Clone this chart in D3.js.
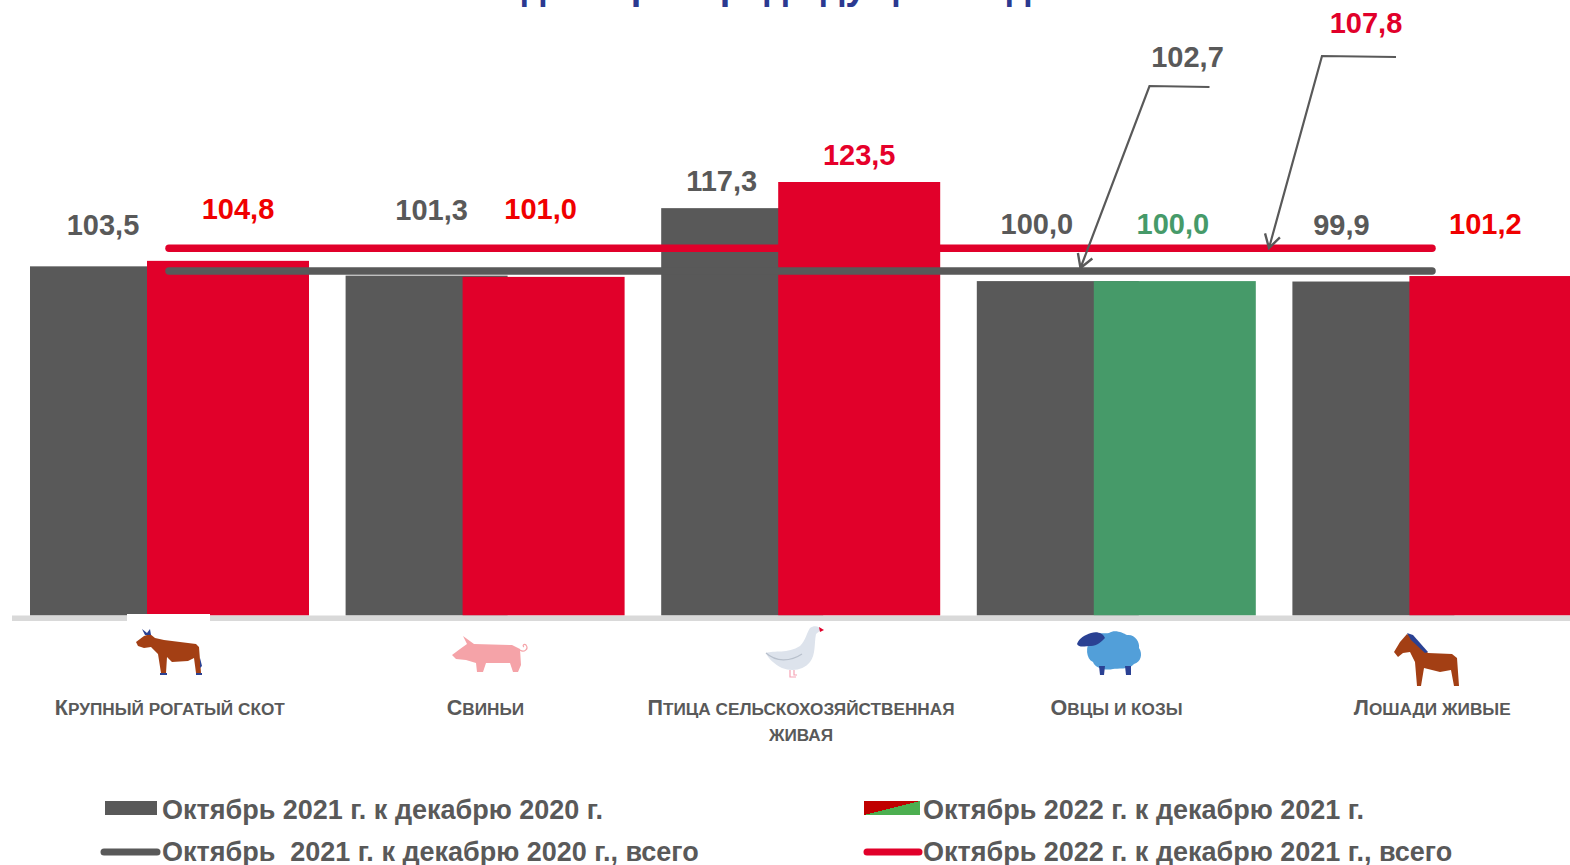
<!DOCTYPE html>
<html><head><meta charset="utf-8">
<script src="https://cdn.jsdelivr.net/npm/d3@7"></script>
<style>
html,body{margin:0;padding:0;background:#fff;overflow:hidden}
svg{display:block;font-family:"Liberation Sans",Arial,sans-serif;font-weight:700}
</style></head><body><svg id="c" width="1570" height="865"></svg>
<script>
const categories = ["Крупный рогатый скот","Свиньи","Птица сельскохозяйственная живая","Овцы и козы","Лошади живые"];
const categoryLines = [["Крупный рогатый скот"],["Свиньи"],["Птица сельскохозяйственная","живая"],["Овцы и козы"],["Лошади живые"]];
const values2021 = [103.5,101.3,117.3,100.0,99.9];
const values2022 = [104.8,101.0,123.5,100.0,101.2];
const total2021 = 102.7;
const total2022 = 107.8;
const title = "в % к декабрю предыдущего года";
const legendLabels = ["Октябрь 2021 г. к декабрю 2020 г.","Октябрь 2022 г. к декабрю 2021 г.","Октябрь  2021 г. к декабрю 2020 г., всего","Октябрь 2022 г. к декабрю 2021 г., всего"];

const GREY="#595959", RED="#e1002a", GREEN="#469a69";
const colors2022 = [RED,RED,RED,GREEN,RED];
const labelColors2022 = ["#f00000","#f00000","#e6002a",GREEN,"#f00000"];
const nudge2021 = [{dx:-8,dy:-31},{dx:5,dy:-55.5},{dx:-20.5,dy:-17.5},{dx:-21,dy:-47},{dx:-32,dy:-47}];
const nudge2022 = [{dx:10,dy:-42},{dx:-3,dy:-58},{dx:0,dy:-17},{dx:-2,dy:-47},{dx:-5,dy:-42}];

const svg=d3.select("#c");
const fmt=v=>v.toFixed(1).replace(".",",");
const x=d3.scaleBand().domain(categories).range([12,1590]);
const y=d3.scaleLinear().domain([20.7,123.5]).range([615.5,182]);
const barW=162, shift=117;
const barX=i=>x(categories[i])+18;

svg.append("text").attr("x",733).attr("y",-1).attr("text-anchor","middle")
  .attr("font-size",38).attr("fill","#2b3990").text(title);

const defs=svg.append("defs");
const grad=defs.append("linearGradient").attr("id","mix").attr("x1",0).attr("y1",0).attr("x2",1).attr("y2",1);
grad.append("stop").attr("offset","50%").attr("stop-color","#c00000");
grad.append("stop").attr("offset","50%").attr("stop-color","#4caf50");
const arrow=defs.append("marker").attr("id","arr").attr("viewBox","-12 -8 14 16").attr("refX",0).attr("refY",0)
  .attr("markerWidth",17).attr("markerHeight",19).attr("markerUnits","userSpaceOnUse").attr("orient","auto");
arrow.append("path").attr("d","M-11,-6.5L0,0L-11,6.5").attr("fill","none").attr("stroke",GREY).attr("stroke-width",2);

// bars
svg.append("g").selectAll("rect").data(values2021).join("rect")
  .attr("x",(d,i)=>barX(i)).attr("width",barW).attr("y",d=>y(d)).attr("height",d=>y.range()[0]-y(d)).attr("fill",GREY);
svg.append("g").selectAll("rect").data(values2022).join("rect")
  .attr("x",(d,i)=>barX(i)+shift).attr("width",barW).attr("y",d=>y(d)).attr("height",d=>y.range()[0]-y(d)).attr("fill",(d,i)=>colors2022[i]);

// axis
svg.append("rect").attr("x",12).attr("y",615.5).attr("width",1558).attr("height",5.5).attr("fill","#d9d9d9");
svg.append("rect").attr("x",127).attr("y",614).attr("width",83).attr("height",7).attr("fill","#fff");

// total lines
const lineEnds=[169,1432];
[[total2022,RED,0],[total2021,GREY,1.2]].forEach(([v,c,o])=>{
  svg.append("line").attr("x1",lineEnds[0]).attr("x2",lineEnds[1]).attr("y1",y(v)+o).attr("y2",y(v)+o)
    .attr("stroke",c).attr("stroke-width",7.5).attr("stroke-linecap","round");
});

// value labels
const valueLabel=(vals,nudge,col,off)=>svg.append("g").attr("font-size",29).attr("text-anchor","middle")
  .selectAll("text").data(vals).join("text")
  .attr("x",(d,i)=>barX(i)+off+nudge[i].dx).attr("y",(d,i)=>y(d)+nudge[i].dy).attr("fill",col).text(fmt);
valueLabel(values2021,nudge2021,GREY,81);
valueLabel(values2022,nudge2022,(d,i)=>labelColors2022[i],shift+81);

// callouts
const lg=d3.line();
svg.append("path").attr("d",lg([[1209.5,87],[1149.5,86],[1080.5,268]])).attr("fill","none").attr("stroke",GREY).attr("stroke-width",2.2).attr("marker-end","url(#arr)");
svg.append("path").attr("d",lg([[1396,57],[1322,56],[1269,248]])).attr("fill","none").attr("stroke",GREY).attr("stroke-width",2.2).attr("marker-end","url(#arr)");
svg.append("text").attr("x",1187.5).attr("y",67).attr("font-size",29).attr("text-anchor","middle").attr("fill",GREY).text(fmt(total2021));
svg.append("text").attr("x",1366).attr("y",33).attr("font-size",29).attr("text-anchor","middle").attr("fill",RED).text(fmt(total2022));

// category labels (small caps: capitals at full size, the rest as smaller capitals)
const cx=c=>x(c)+x.bandwidth()/2;
const catG=svg.append("g").attr("font-size",21.5).attr("fill",GREY).attr("text-anchor","middle");
categories.forEach((c,i)=>categoryLines[i].forEach((t,j)=>{
  const el=catG.append("text").attr("x",cx(c)).attr("y",715+j*26);
  Array.from(t).forEach(ch=>{
    const lower=ch!==ch.toUpperCase();
    el.append("tspan").attr("font-size",lower||ch===" "?17.2:21.5).text(ch.toUpperCase());
  });
}));

// icons
const icon=(tx,ty,parts)=>{const g=svg.append("g").attr("transform",`translate(${tx},${ty})`);
  parts.forEach(([d,f,s])=>g.append("path").attr("d",d).attr("fill",f||"none").attr("stroke",s||"none").attr("stroke-width",s?1.2:0));};
const BROWN="#a33f14", NAVY="#2a4193";
icon(136,628,[
 ["M0,14 L8,8 L14,6 L19,10 L28,12 L60,16 L63,19 L64,32 L65,45 L60,45 L58,30 L52,33 L36,34 L31,29 L30,45 L25,45 L22,26 L15,19 L8,20 L2,18 Z",BROWN],
 ["M9,7 L6,1 L11,5 L14,1 L15,7 Z",NAVY],["M24,45 h7 v2 h-7z M60,45 h6 v2 h-6z M64,30 L66,38 L64,40Z",NAVY]]);
icon(452,635,[
 ["M0,20 L8,14 L15,9 L11,1 L22,9 L60,10 L68,14 L69,30 L66,37 L61,37 L58,28 L34,28 L31,37 L25,37 L24,28 L14,25 L4,24 Z","#f5a3a8"],
 ["M68,15 C72,18 77,14 74,10 C72,8 70,11 72,12","none","#f5a3a8"]]);
icon(766,626,[
 ["M0,27 C8,24 22,28 34,20 C40,14 41,6 44,2 C48,-1 54,0 55,4 L50,8 C48,18 50,28 44,36 C38,44 26,46 16,42 C8,38 2,32 0,27 Z","#dde3ec"],
 ["M0,27 C10,36 24,36 36,28","none","#b8c0cc"],["M24,44 v7 h6 M28,44 v5 h3","none","#f5a3b5"],["M53,1 L58,4 L54,6 Z","#e1002a"]]);
icon(1077,630,[
 ["M14,10 C18,1 28,4 32,3 C38,-1 46,3 50,5 C58,4 63,12 62,18 C66,24 64,32 57,34 C52,40 40,38 36,39 C28,41 18,38 16,32 C9,29 8,16 14,10 Z","#529fd9"],
 ["M0,14 C2,8 8,5 14,3 C20,1 26,3 28,8 C24,12 20,16 14,16 C8,16 2,18 0,14 Z",NAVY],
 ["M22,36 h6 l-1,9 h-4z M48,36 h6 l0,9 h-5z",NAVY]]);
icon(1394,632,[
 ["M0,20 L6,10 L13,2 L18,5 L34,21 L58,22 L63,26 L65,54 L60,54 L57,38 L46,40 L30,36 L27,54 L23,54 L21,30 L16,20 L9,21 L4,25 Z",BROWN],
 ["M13,1 L19,3 L34,20 L31,21 L17,8 Z",NAVY]]);

// legend
const lx=[162,923], ly=[812,854];
const legG=svg.append("g").attr("font-size",27).attr("fill",GREY).attr("dominant-baseline","middle");
legendLabels.forEach((t,i)=>legG.append("text").attr("x",lx[i%2]).attr("y",ly[Math.floor(i/2)]).style("white-space","pre").text(t));
svg.append("rect").attr("x",105).attr("y",801).attr("width",52).attr("height",14).attr("fill",GREY);
svg.append("rect").attr("x",864).attr("y",801).attr("width",56).attr("height",14).attr("fill","url(#mix)");
svg.append("line").attr("x1",104).attr("x2",157).attr("y1",852).attr("y2",852).attr("stroke",GREY).attr("stroke-width",7).attr("stroke-linecap","round");
svg.append("line").attr("x1",867).attr("x2",919).attr("y1",852).attr("y2",852).attr("stroke",RED).attr("stroke-width",7).attr("stroke-linecap","round");
</script></body></html>
